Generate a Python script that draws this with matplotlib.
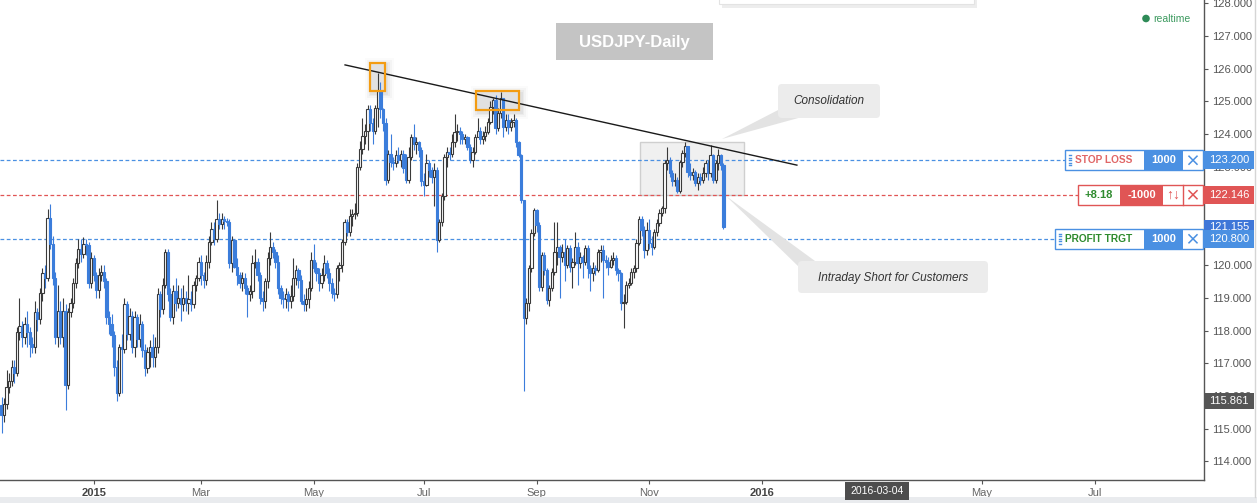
"""USDJPY daily candlestick chart with trade levels, recreated with matplotlib."""

import matplotlib
matplotlib.use("Agg")
import matplotlib.pyplot as plt
import matplotlib.patches as mpatches
from matplotlib.transforms import blended_transform_factory
import numpy as np
import pandas as pd

# Daily bars, first session 2014-11-12; each open is the prior close.
start_date = "2014-11-12"
first_open = 115.73
closes = [
    115.42, 115.75, 116.28, 116.45, 116.9, 116.7, 117.95, 118.15, 117.8, 118.2,
    117.95, 117.6, 117.5, 118.55, 118.35, 119.15, 119.75, 119.6, 121.45, 120.65,
    119.6, 117.8, 118.6, 117.8, 118.6, 116.35, 118.55, 118.85, 119.45, 120.05,
    120.5, 120.35, 120.65, 120.6, 119.45, 120.2, 119.7, 119.25, 119.7, 119.8,
    119.5, 118.4, 118.2, 117.85, 116.9, 116.1, 117.5, 117.45, 118.8, 117.9,
    118.45, 117.5, 118.4, 117.75, 118.2, 117.4, 116.85, 117.35, 117.5, 117.2,
    117.5, 119.1, 118.65, 119.4, 120.4, 119.1, 118.4, 119.2, 118.85, 119.0,
    118.8, 119.0, 118.85, 118.95, 118.8, 119.4, 119.6, 120.1, 119.7, 119.55,
    120.1, 120.7, 121.1, 120.8, 121.4, 121.25, 121.4, 121.35, 121.3, 120.05,
    120.75, 119.95, 119.7, 119.45, 119.6, 119.3, 119.1, 119.2, 120.05, 120.1,
    119.7, 119.0, 118.9, 119.5, 120.2, 120.55, 120.4, 120.1, 119.3, 119.0,
    118.95, 119.1, 118.9, 119.05, 119.6, 119.85, 119.55, 118.9, 118.8, 118.95,
    119.3, 120.15, 119.9, 119.75, 119.45, 119.7, 120.05, 119.75, 119.45, 119.15,
    119.1, 119.9, 120.0, 120.7, 121.3, 121.0, 121.5, 121.55, 121.6, 123.0,
    123.55, 123.95, 124.1, 124.75, 124.35, 124.1, 124.8, 125.3, 124.75, 124.35,
    122.6, 123.4, 123.15, 123.1, 123.35, 123.2, 123.4, 122.95, 122.6, 123.3,
    123.9, 123.7, 123.75, 123.5, 122.55, 122.45, 123.1, 122.9, 122.7, 122.9,
    120.75, 121.3, 122.1, 123.3, 123.45, 123.4, 123.75, 124.05, 124.1, 124.0,
    123.85, 123.9, 123.6, 123.2, 123.45, 123.9, 124.1, 123.85, 123.95, 124.07,
    124.38, 124.83, 125.04, 124.18, 124.64, 125.1, 124.2, 124.43, 124.2, 124.37,
    124.43, 123.76, 123.36, 121.98, 118.38, 118.84, 119.9, 120.97, 121.68, 121.22,
    119.33, 120.3, 119.85, 118.93, 119.3, 119.8, 120.4, 120.55, 120.25, 120.4,
    120.0, 120.52, 119.95, 120.1, 120.55, 120.05, 120.25, 120.1, 120.52, 119.9,
    119.75, 119.9, 119.85, 120.4, 120.45, 120.15, 120.1, 119.95, 120.15, 120.2,
    119.85, 119.75, 118.85, 118.88, 119.4, 119.45, 119.8, 119.9, 120.67, 121.4,
    121.07, 120.46, 121.07, 120.67, 120.55, 121.0, 121.28, 121.59, 121.74, 123.11,
    123.2, 122.8, 122.55, 122.6, 122.25, 123.15, 123.42, 123.63, 122.85, 122.75,
    122.85, 122.5, 122.7, 122.6, 122.8, 123.1, 122.8, 123.35, 122.6, 123.1,
    123.35, 123.05, 121.155,
]
highs = [
    115.97, 115.95, 116.8, 116.7, 117.1, 117.1, 118.1, 119.0, 118.3, 118.4,
    118.6, 118.1, 117.8, 118.9, 118.7, 119.3, 119.9, 120.0, 121.7, 121.85,
    120.9, 119.8, 119.4, 118.9, 119.0, 118.8, 118.7, 119.0, 119.6, 120.2,
    120.8, 120.8, 120.85, 120.8, 120.7, 120.4, 120.3, 119.8, 119.9, 120.0,
    120.0, 119.6, 118.6, 118.5, 118.0, 117.1, 117.6, 117.9, 119.0, 118.9,
    118.7, 118.6, 118.6, 118.5, 118.5, 118.3, 117.6, 117.5, 117.7, 117.9,
    117.8, 119.3, 119.2, 119.6, 120.5, 120.5, 119.3, 119.4, 119.6, 119.4,
    119.3, 119.4, 119.2, 119.7, 119.2, 119.5, 119.7, 120.25, 120.3, 119.8,
    120.3, 120.9, 121.3, 121.3, 122.0, 121.6, 121.6, 121.5, 121.45, 121.4,
    120.9, 120.8, 120.2, 119.8, 119.8, 119.75, 119.4, 119.4, 120.3, 120.5,
    120.2, 119.8, 119.2, 119.6, 120.4, 121.0, 120.7, 120.5, 120.3, 119.4,
    119.2, 119.3, 119.2, 119.4, 120.2, 120.0, 119.9, 119.7, 119.1, 119.3,
    119.5, 120.4, 120.65, 120.1, 119.9, 119.9, 120.3, 120.15, 119.9, 119.6,
    119.3, 120.0, 120.1, 120.8, 121.4, 121.4, 121.7, 121.7, 121.9, 123.1,
    123.8, 124.5, 124.3, 124.9, 124.9, 124.5, 124.9, 125.86, 125.6, 124.8,
    124.5, 123.5, 124.0, 123.3, 123.5, 123.6, 123.5, 123.5, 123.4, 123.6,
    124.0, 124.3, 123.9, 123.8, 123.6, 122.8, 123.4, 123.2, 123.0, 123.1,
    123.0, 121.4, 122.2, 123.4, 123.6, 123.6, 124.0, 124.6, 124.3, 124.2,
    124.1, 124.0, 123.95, 123.7, 123.6, 124.0, 124.5, 124.2, 124.1, 124.25,
    124.5, 125.0, 125.1, 125.2, 124.8, 125.28, 125.1, 124.6, 124.6, 124.5,
    124.6, 124.5, 123.8, 123.4, 122.0, 119.0, 120.0, 121.1, 121.75, 121.7,
    121.3, 120.4, 120.4, 119.9, 119.4, 119.9, 121.3, 121.3, 120.6, 120.65,
    120.8, 120.6, 120.6, 120.2, 121.0, 120.7, 120.4, 120.3, 120.6, 120.6,
    120.0, 120.1, 120.0, 120.5, 120.6, 120.6, 120.3, 120.25, 120.3, 120.4,
    120.3, 119.9, 119.8, 119.1, 119.5, 119.6, 119.9, 120.0, 120.8, 121.5,
    121.5, 121.2, 121.3, 121.4, 120.9, 121.1, 121.4, 121.7, 121.8, 123.2,
    123.6, 123.3, 122.9, 122.8, 122.7, 123.2, 123.5, 123.76, 123.63, 123.1,
    122.95, 122.9, 122.8, 122.8, 123.0, 123.2, 123.2, 123.66, 123.4, 123.2,
    123.55, 123.4, 123.1,
]
lows = [
    114.87, 115.2, 115.6, 116.1, 116.3, 116.4, 116.6, 117.7, 117.5, 117.6,
    117.5, 117.2, 117.3, 117.3, 118.0, 118.2, 118.9, 119.3, 119.5, 120.5,
    119.4, 117.6, 117.5, 117.6, 117.5, 115.57, 116.2, 118.4, 118.7, 119.3,
    119.9, 120.1, 120.2, 120.3, 119.3, 119.3, 119.5, 119.0, 119.0, 119.5,
    119.3, 118.2, 117.9, 117.5, 116.6, 115.85, 116.0, 116.1, 117.3, 117.7,
    117.7, 117.3, 117.2, 117.5, 117.5, 117.2, 116.6, 116.7, 116.9, 116.9,
    116.9, 117.3, 118.4, 118.5, 119.3, 118.9, 118.3, 118.2, 118.6, 118.7,
    118.3, 118.6, 118.6, 118.5, 118.6, 118.7, 119.2, 119.5, 119.4, 119.3,
    119.4, 119.9, 120.6, 120.6, 120.7, 121.1, 121.1, 121.1, 121.2, 119.9,
    119.8, 119.9, 119.4, 119.3, 119.2, 119.1, 118.4, 118.9, 119.0, 119.9,
    119.5, 118.8, 118.6, 118.7, 119.3, 120.0, 120.2, 119.9, 119.1, 118.8,
    118.7, 118.7, 118.6, 118.7, 118.9, 119.4, 119.3, 118.8, 118.6, 118.6,
    118.7, 119.2, 119.8, 119.5, 119.2, 119.3, 119.5, 119.6, 119.2, 119.0,
    118.9, 119.0, 119.5, 119.8, 120.6, 120.9, 120.9, 121.2, 121.4, 121.5,
    122.9, 123.4, 123.7, 123.5, 124.1, 123.7, 124.0, 124.2, 124.5, 124.1,
    122.45, 122.5, 123.0, 122.9, 123.0, 123.1, 123.0, 122.8, 122.5, 122.5,
    123.2, 123.5, 123.4, 123.3, 122.4, 122.1, 122.4, 122.7, 122.5, 121.8,
    120.4, 120.7, 121.2, 122.0, 123.0, 123.2, 123.3, 123.6, 123.8, 123.7,
    123.7, 123.7, 123.5, 123.1, 123.0, 123.4, 123.9, 123.7, 123.7, 123.8,
    124.0, 124.3, 124.6, 124.0, 124.1, 124.5, 123.9, 124.1, 124.0, 124.1,
    124.2, 123.6, 123.3, 121.9, 116.15, 118.2, 118.6, 119.8, 120.9, 121.0,
    119.2, 119.2, 119.7, 118.8, 118.75, 119.2, 119.7, 120.0, 119.0, 120.1,
    119.5, 119.9, 119.8, 119.3, 120.0, 119.4, 119.9, 119.6, 120.0, 119.6,
    119.2, 119.5, 119.7, 119.8, 120.1, 119.0, 119.9, 119.7, 119.9, 120.0,
    119.7, 119.5, 118.63, 118.07, 118.8, 119.3, 119.4, 119.6, 119.8, 120.6,
    120.9, 120.2, 120.3, 120.5, 120.3, 120.5, 120.9, 121.2, 121.5, 121.6,
    122.9, 122.7, 122.4, 122.4, 122.2, 122.2, 123.0, 123.3, 122.7, 122.6,
    122.6, 122.4, 122.3, 122.45, 122.5, 122.7, 122.6, 122.7, 122.5, 122.5,
    122.9, 122.9, 121.1,
]

# Trade levels shown on the price scale.
stop_loss = 123.200
entry_price = 122.146
profit_target = 120.800
last_price = 121.155
cursor_price = 115.861
cursor_date = "2016-03-04"

# Month ticks on the time scale.
tick_dates = ["2015-01-01", "2015-03-02", "2015-05-01", "2015-07-01", "2015-09-01",
              "2015-11-02", "2016-01-01", "2016-05-02", "2016-07-01"]
tick_labels = ["2015", "Mar", "May", "Jul", "Sep", "Nov", "2016", "May", "Jul"]

# Drawings placed on the chart as (bar position, price).
trend_start = (134.2, 126.11)
trend_end = (310.7, 123.05)
highlight_boxes = [(143.9, 149.8, 125.31, 126.17), (185.4, 202.2, 124.73, 125.31)]
consolidation_zone = (249.4, 290.0, 122.14, 123.76)

plt.rcParams["font.family"] = ["Liberation Sans", "DejaVu Sans"]

W, H = 1257, 503
BAR_PX = 2.56
BLUE = "#3b7ddb"
DARK = "#3a3a3a"
LEVEL_BLUE = "#4a90e2"
LEVEL_RED = "#e05555"
GREEN = "#2e8b2e"
AXIS_GRAY = "#555555"

fig = plt.figure(figsize=(W / 100, H / 100), dpi=100)
fig.patch.set_facecolor("white")
ax = fig.add_axes([0, 23 / H, 1204 / W, 480 / H])
ax.set_xlim(-1.5 / BAR_PX, (1204 - 1.5) / BAR_PX)
ax.set_ylim(113.435, 128.092)
ax.set_facecolor("white")

# Candles: hollow for up days, solid blue for down days.
c = np.array(closes)
o = np.r_[first_open, c[:-1]]
hi = np.array(highs)
lo = np.array(lows)
x = np.arange(len(c))
up = c >= o
edge = [DARK if u else BLUE for u in up]
face = ["white" if u else BLUE for u in up]
ax.vlines(x, lo, hi, colors=edge, linewidth=0.8, zorder=3)
ax.bar(x, np.maximum(np.abs(c - o), 0.02), 0.9, bottom=np.minimum(o, c),
       color=face, edgecolor=edge, linewidth=0.8, zorder=4)

# Axes styling.
for side in ["top", "left"]:
    ax.spines[side].set_visible(False)
for side in ["right", "bottom"]:
    ax.spines[side].set_color(AXIS_GRAY)
    ax.spines[side].set_linewidth(1)
ax.yaxis.tick_right()
yt = np.arange(114, 129)
ax.set_yticks(yt)
ax.set_yticklabels([f"{v:.3f}" for v in yt])
ax.tick_params(axis="y", length=3, width=0.8, color=AXIS_GRAY, labelcolor="#555555",
               labelsize=8, pad=2.5)

dates = pd.bdate_range(start_date, periods=600)
tick_pos = dates.get_indexer(pd.to_datetime(tick_dates))
ax.set_xticks(tick_pos)
ax.set_xticklabels(tick_labels)
ax.tick_params(axis="x", length=3, width=0.8, color=AXIS_GRAY, labelcolor="#666666",
               labelsize=8, pad=2.5)
for lab in ax.get_xticklabels():
    if lab.get_text().isdigit():
        lab.set_fontweight("bold")
        lab.set_color("#444444")

# Trade level lines, stopping at their order boxes.
blend = blended_transform_factory(ax.transAxes, ax.transData)
dash = (0, (3, 2))
ax.plot([0, 1065 / 1204], [stop_loss] * 2, transform=blend, color=LEVEL_BLUE, lw=0.9, ls=dash, zorder=2)
ax.plot([0, 1078 / 1204], [entry_price] * 2, transform=blend, color=LEVEL_RED, lw=0.9, ls=dash, zorder=2)
ax.plot([0, 1055 / 1204], [profit_target] * 2, transform=blend, color=LEVEL_BLUE, lw=0.9, ls=dash, zorder=2)

# Trendline, highlighted peaks and consolidation zone.
ax.plot([trend_start[0], trend_end[0]], [trend_start[1], trend_end[1]], color="#1a1a1a", lw=1.0, zorder=5)
dx = 1 / BAR_PX
dy = (128.092 - 113.435) / 480
for x0, x1, y0, y1 in highlight_boxes:
    for k, a in [(7, 0.03), (5, 0.05), (3, 0.07), (1.5, 0.09)]:
        ax.add_patch(mpatches.Rectangle((x0 - k * dx + 2 * dx, y0 - k * dy - 2 * dy),
                                        (x1 - x0) + 2 * k * dx, (y1 - y0) + 2 * k * dy,
                                        fc="#808080", ec="none", alpha=a, zorder=2))
    ax.add_patch(mpatches.Rectangle((x0, y0), x1 - x0, y1 - y0, fc="none",
                                    ec="#f39c12", lw=1.6, zorder=6))
zx0, zx1, zy0, zy1 = consolidation_zone
ax.add_patch(mpatches.Rectangle((zx0, zy0), zx1 - zx0, zy1 - zy0, fc="#f0f0f0",
                                ec="#cfcfcf", lw=1, zorder=1))

# Overlay in pixel coordinates for the trading panel widgets.
ov = fig.add_axes([0, 0, 1, 1], zorder=10)
ov.set_xlim(0, W)
ov.set_ylim(H, 0)
ov.axis("off")
ov.patch.set_alpha(0)


def py(price):
    return ov.transData.inverted().transform(ax.transData.transform((0, price)))[1]


def rect(x0, y0, w, h, **kw):
    ov.add_patch(mpatches.Rectangle((x0, y0), w, h, **kw))


def cross(cx, cy, color, s=4):
    ov.plot([cx - s, cx + s], [cy - s, cy + s], color=color, lw=1.1)
    ov.plot([cx - s, cx + s], [cy + s, cy - s], color=color, lw=1.1)


def grip(gx, cy, color):
    for dy_ in (-5, -2.5, 0, 2.5, 5):
        ov.plot([gx, gx + 2.5], [cy + dy_, cy + dy_], color=color, lw=1)


# Frame edges.
rect(0, 497, W, 6, fc="#e9ebee", ec="none")
ov.plot([1255, 1255], [0, 497], color="#d5d5d5", lw=1)

# Partially visible panel at the top.
rect(722, -8, 255, 16, fc="#e6e6e6", ec="none", alpha=0.7)
rect(719, -10, 255, 14, fc="white", ec="#e3e3e3", lw=0.8)

# Title.
rect(556, 23, 157, 37, fc="#c4c4c4", ec="none")
ov.text(634.5, 42, "USDJPY-Daily", color="white", fontsize=12, fontweight="bold",
        ha="center", va="center")

# Realtime marker.
ov.add_patch(mpatches.Circle((1146, 18.5), 3.8, fc="#2e8b57", ec="none"))
ov.text(1153, 18.5, "realtime", color="#3c9a5f", fontsize=7.5, va="center")

# Callouts.
ov.add_patch(mpatches.Polygon([(722, 139), (782, 108), (802, 117)], fc="#e3e3e3", ec="none"))
ov.add_patch(mpatches.FancyBboxPatch((778, 84), 102, 34, boxstyle="round,pad=0,rounding_size=4",
                                     fc="#ececec", ec="none"))
ov.text(829, 101, "Consolidation", fontsize=8.5, style="italic", color="#333333",
        ha="center", va="center")
ov.add_patch(mpatches.Polygon([(726, 196), (800, 268), (815, 261)], fc="#e3e3e3", ec="none"))
ov.add_patch(mpatches.FancyBboxPatch((798, 261), 190, 32, boxstyle="round,pad=0,rounding_size=4",
                                     fc="#ececec", ec="none"))
ov.text(893, 277.5, "Intraday Short for Customers", fontsize=8.5, style="italic",
        color="#333333", ha="center", va="center")

# Stop loss order box.
ys = py(stop_loss)
rect(1065, ys - 10, 138, 20, fc="white", ec=LEVEL_BLUE, lw=1)
grip(1068.5, ys, LEVEL_BLUE)
ov.text(1104, ys, "STOP LOSS", color="#e06666", fontsize=7.3, fontweight="bold", ha="center", va="center")
rect(1144, ys - 10, 39, 20, fc=LEVEL_BLUE, ec="none")
ov.text(1163.5, ys, "1000", color="white", fontsize=8, fontweight="bold", ha="center", va="center")
cross(1193, ys, LEVEL_BLUE)

# Open position box.
ye = py(entry_price)
rect(1078, ye - 10, 125, 20, fc="white", ec=LEVEL_RED, lw=1)
ov.text(1099, ye, "+8.18", color=GREEN, fontsize=8, fontweight="bold", ha="center", va="center")
rect(1120, ye - 10, 43, 20, fc=LEVEL_RED, ec="none")
ov.text(1141.5, ye, "-1000", color="white", fontsize=8, fontweight="bold", ha="center", va="center")
ov.plot([1183, 1183], [ye - 10, ye + 10], color=LEVEL_RED, lw=1)
ov.text(1173, ye, "↑↓", color=LEVEL_RED, fontsize=10, ha="center", va="center")
cross(1193, ye, LEVEL_RED)

# Profit target order box.
yp = py(profit_target)
rect(1055, yp - 10, 148, 20, fc="white", ec=LEVEL_BLUE, lw=1)
grip(1058.5, yp, LEVEL_BLUE)
ov.text(1099, yp, "PROFIT TRGT", color=GREEN, fontsize=7.3, fontweight="bold", ha="center", va="center")
rect(1144, yp - 10, 39, 20, fc=LEVEL_BLUE, ec="none")
ov.text(1163.5, yp, "1000", color="white", fontsize=8, fontweight="bold", ha="center", va="center")
cross(1193, yp, LEVEL_BLUE)


def price_tag(price, color, h=18):
    yc = py(price)
    rect(1204, yc - h / 2, 50, h, fc=color, ec="none")
    ov.text(1229, yc, f"{price:.3f}", color="white", fontsize=8, ha="center", va="center")


price_tag(stop_loss, LEVEL_BLUE)
price_tag(entry_price, LEVEL_RED)
price_tag(last_price, "#3f76d8", h=15)
price_tag(profit_target, LEVEL_BLUE)
price_tag(cursor_price, "#555555", h=16)

# Cursor date label on the time scale.
cx = ov.transData.inverted().transform(
    ax.transData.transform((dates.get_loc(pd.Timestamp(cursor_date)), 114)))[0]
rect(cx - 32, 482, 64, 18, fc="#4d4d4d", ec="none")
ov.text(cx, 491, cursor_date, color="white", fontsize=7.5, ha="center", va="center")

fig.savefig("out.png", dpi=100, facecolor="white")
